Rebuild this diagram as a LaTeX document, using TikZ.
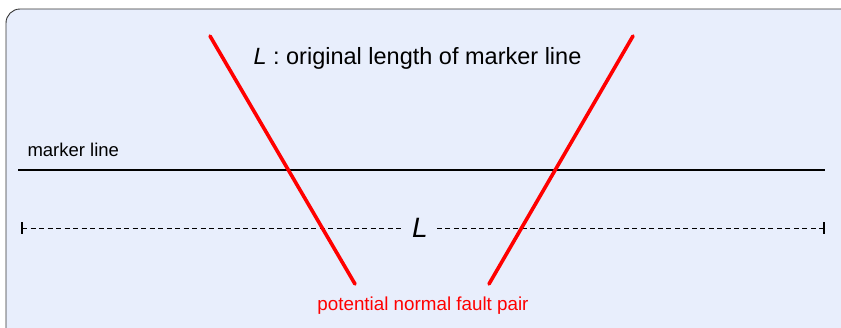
\documentclass[tikz,border=0pt]{standalone}
\usepackage{fontspec}
\setmainfont{Liberation Sans}
\usetikzlibrary{calc}
\definecolor{panelbg}{HTML}{E8EEFC}
\definecolor{faultred}{HTML}{FF0000}
\begin{document}
\begin{tikzpicture}[x=1pt,y=-1pt,
    fault/.style={faultred, line width=3.6pt, line cap=round},
    marker/.style={black, line width=1.8pt},
    lenbar/.style={black, dash pattern=on 5pt off 3.5pt, line width=0.9pt}]
    \useasboundingbox (0,0) rectangle (841,327);
    \begin{scope}
        \clip (0,0) rectangle (841,327);
        \draw[fill=panelbg, draw=black!80, line width=0.9pt, rounded corners=14pt] (6,9) rectangle (856,345);
    \end{scope}
    % labels
    \node[font=\fontsize{23.5}{27}\selectfont, anchor=west] (title) at (250,58) {\textit{L} : original length of marker line};
    \node[font=\fontsize{18.5}{21}\selectfont, anchor=west] (mlab) at (24,150) {marker line};
    \node[font=\fontsize{28}{32}\selectfont\itshape, inner xsep=9pt] (len) at (420,228) {L};
    \node[faultred, font=\fontsize{18.8}{22}\selectfont] (flab) at (423,306) {potential normal fault pair};
    % marker line
    \coordinate (mA) at (18,170);
    \coordinate (mB) at (825,170);
    \draw[marker] (mA) -- (mB);
    % length bar
    \coordinate (lA) at (22,228);
    \coordinate (lB) at (824,228);
    \draw[lenbar] (lA) -- (len.west);
    \draw[lenbar] (lB) -- (len.east);
    \draw[black, line width=1.2pt] ($(lA)+(0,-6)$) -- ($(lA)+(0,6)$);
    \draw[black, line width=1.2pt] ($(lB)+(0,-6)$) -- ($(lB)+(0,6)$);
    % faults
    \coordinate (f1a) at (210,36);
    \coordinate (f1b) at (355,284);
    \coordinate (f2a) at (633,36);
    \coordinate (f2b) at (489,284);
    \draw[fault] (f1a) -- (f1b);
    \draw[fault] (f2a) -- (f2b);
\end{tikzpicture}
\end{document}
